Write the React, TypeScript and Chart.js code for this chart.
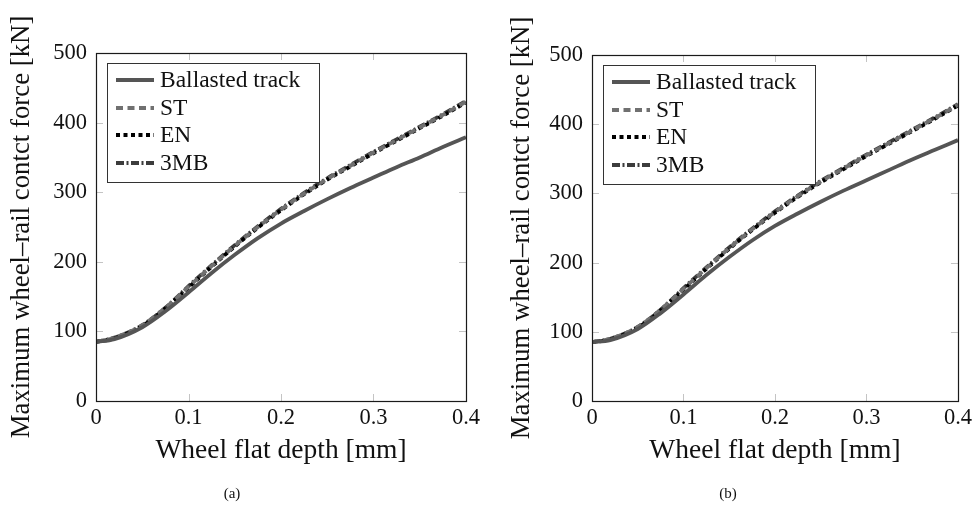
import React, { useEffect, useRef } from "react";
import { Chart, registerables } from "chart.js";

Chart.register(...registerables);

// ---------- data ----------
const depth = [0, 0.02, 0.05, 0.075, 0.1, 0.125, 0.15, 0.175, 0.2, 0.225, 0.25, 0.275, 0.3, 0.325, 0.35, 0.375, 0.4];

const seriesNames = ["Ballasted track", "ST", "EN", "3MB"];

const aBallasted = [85, 89, 106, 129, 156, 184, 210, 234, 255, 273, 290, 306, 321, 336, 350, 365, 379];
const aST = [85, 91, 109, 134, 164, 194, 223, 250, 275, 298, 319, 338, 357, 375, 393, 411, 430];
const aEN = [85, 90, 108, 133, 163, 193, 222, 249, 274, 297, 318, 337, 356, 374, 392, 410, 429];
const a3MB = [85, 91, 109, 134, 165, 195, 224, 251, 276, 299, 320, 339, 358, 376, 394, 412, 431];

const bBallasted = [85, 88, 104, 127, 154, 182, 208, 232, 253, 271, 288, 304, 319, 334, 349, 363, 377];
const bST = [85, 90, 107, 132, 162, 192, 221, 248, 273, 296, 317, 336, 355, 373, 391, 409, 428];
const bEN = [85, 89, 106, 131, 161, 191, 220, 247, 272, 295, 316, 335, 354, 372, 390, 408, 427];
const b3MB = [85, 90, 107, 132, 163, 193, 222, 249, 274, 297, 318, 337, 356, 374, 392, 410, 429];

const xTickLabels = ["0", "0.1", "0.2", "0.3", "0.4"];
const yTickLabels = ["0", "100", "200", "300", "400", "500"];

const xTitle = "Wheel flat depth [mm]";
const yTitle = "Maximum wheel\u2013rail contct force [kN]";

const captions = ["(a)", "(b)"];

// ---------- styling ----------
const FONT = '"Liberation Serif", "Times New Roman", serif';
const styles = [
  { color: "#555555", dash: [] as number[], width: 3.8 },
  { color: "#707070", dash: [7, 4.5], width: 3.8 },
  { color: "#000000", dash: [4, 3.5], width: 3.8 },
  { color: "#3c3c3c", dash: [8, 2.5, 2, 2.5], width: 3.8 },
];

const boxLegend = {
  id: "boxLegend",
  afterDatasetsDraw(chart: any) {
    const { ctx, chartArea: ca } = chart;
    const x0 = ca.left + 11;
    const y0 = ca.top + 10;
    const w = 212;
    const h = 119;
    ctx.save();
    ctx.fillStyle = "#ffffff";
    ctx.fillRect(x0, y0, w, h);
    ctx.strokeStyle = "#333333";
    ctx.lineWidth = 1;
    ctx.setLineDash([]);
    ctx.strokeRect(x0 + 0.5, y0 + 0.5, w, h);
    chart.data.datasets.forEach((ds: any, i: number) => {
      const cy = Math.round(y0 + 17 + i * 27.7);
      ctx.beginPath();
      ctx.setLineDash(ds.borderDash || []);
      ctx.strokeStyle = ds.borderColor;
      ctx.lineWidth = ds.borderWidth;
      ctx.lineCap = "butt";
      ctx.moveTo(ca.left + 20, cy);
      ctx.lineTo(ca.left + 58, cy);
      ctx.stroke();
      ctx.setLineDash([]);
      ctx.fillStyle = "#111111";
      ctx.font = `23.5px ${FONT}`;
      ctx.textBaseline = "middle";
      ctx.textAlign = "left";
      ctx.fillText(ds.label, ca.left + 64, cy + 1);
    });
    ctx.restore();
  },
};

const frame = {
  id: "frame",
  afterDraw(chart: any) {
    const { ctx, chartArea: ca, scales } = chart;
    const tl = 7;
    ctx.save();
    ctx.setLineDash([]);
    ctx.strokeStyle = "#c4c4c4";
    ctx.lineWidth = 1;
    scales.x.ticks.forEach((t: any) => {
      const px = Math.round(scales.x.getPixelForValue(t.value)) + 0.5;
      if (px <= ca.left + 1 || px >= ca.right - 1) return;
      ctx.beginPath();
      ctx.moveTo(px, ca.bottom);
      ctx.lineTo(px, ca.bottom - tl);
      ctx.moveTo(px, ca.top);
      ctx.lineTo(px, ca.top + tl);
      ctx.stroke();
    });
    scales.y.ticks.forEach((t: any) => {
      const py = Math.round(scales.y.getPixelForValue(t.value)) + 0.5;
      if (py <= ca.top + 1 || py >= ca.bottom - 1) return;
      ctx.beginPath();
      ctx.moveTo(ca.left, py);
      ctx.lineTo(ca.left + tl, py);
      ctx.moveTo(ca.right, py);
      ctx.lineTo(ca.right - tl, py);
      ctx.stroke();
    });
    ctx.strokeStyle = "#1a1a1a";
    ctx.lineWidth = 1.2;
    ctx.strokeRect(Math.round(ca.left) + 0.5, Math.round(ca.top) + 0.5, Math.round(ca.right - ca.left), Math.round(ca.bottom - ca.top));
    ctx.restore();
  },
};

type PanelProps = {
  values: number[][];
  left: number;
  width: number;
  padLeft: number;
  padTop: number;
  padRight: number;
  yWidth: number;
};

function Panel({ values, left, width, padLeft, padTop, padRight, yWidth }: PanelProps) {
  const ref = useRef<HTMLCanvasElement | null>(null);
  useEffect(() => {
    if (!ref.current) return;
    const datasets = values.map((vals, i) => ({
      label: seriesNames[i],
      data: depth.map((d, j) => ({ x: d, y: vals[j] })),
      borderColor: styles[i].color,
      backgroundColor: styles[i].color,
      borderDash: styles[i].dash,
      borderWidth: styles[i].width,
      pointRadius: 0,
      fill: false,
      cubicInterpolationMode: "monotone" as const,
      borderCapStyle: "butt" as const,
    }));
    const chart = new Chart(ref.current, {
      type: "line",
      data: { datasets },
      plugins: [boxLegend, frame],
      options: {
        animation: false,
        responsive: false,
        devicePixelRatio: 1,
        layout: { padding: { left: padLeft, top: padTop, right: padRight, bottom: 45 } },
        plugins: { legend: { display: false }, tooltip: { enabled: false } },
        scales: {
          x: {
            type: "linear",
            min: 0,
            max: 0.4,
            grid: { display: false, drawTicks: false },
            border: { display: false },
            ticks: {
              stepSize: 0.1,
              padding: 4,
              color: "#111",
              font: { family: FONT, size: 22.5 },
              maxRotation: 0,
              callback: (_v: any, i: number) => xTickLabels[i],
            },
            title: {
              display: true,
              text: xTitle,
              color: "#111",
              font: { family: FONT, size: 27.5 },
              padding: 0,
            },
            afterFit: (s: any) => {
              s.height = 66;
            },
          },
          y: {
            min: 0,
            max: 500,
            grid: { display: false, drawTicks: false },
            border: { display: false },
            ticks: {
              stepSize: 100,
              padding: 9,
              color: "#111",
              font: { family: FONT, size: 22.5 },
              callback: (_v: any, i: number) => yTickLabels[i],
            },
            title: {
              display: true,
              text: yTitle,
              color: "#111",
              font: { family: FONT, size: 26.8 },
              padding: 0,
            },
            afterFit: (s: any) => {
              s.width = yWidth;
            },
          },
        },
      },
    });
    return () => chart.destroy();
  }, []);
  return (
    <canvas
      ref={ref}
      width={width}
      height={512}
      style={{ position: "absolute", left, top: 0, width, height: 512 }}
    />
  );
}

export default function App() {
  return (
    <div style={{ position: "fixed", left: 0, top: 0, width: 976, height: 512, background: "#fff", overflow: "hidden" }}>
      <Panel values={[aBallasted, aST, aEN, a3MB]} left={0} width={488} padLeft={6} padTop={53} padRight={22} yWidth={90} />
      <Panel values={[bBallasted, bST, bEN, b3MB]} left={496} width={480} padLeft={10} padTop={55} padRight={16} yWidth={86} />
      {captions.map((c, i) => (
        <div
          key={c}
          style={{
            position: "absolute",
            left: i === 0 ? 232 : 728,
            top: 493,
            transform: "translate(-50%, -50%)",
            fontFamily: FONT,
            fontSize: 15,
            color: "#111",
            whiteSpace: "nowrap",
          }}
        >
          {c}
        </div>
      ))}
    </div>
  );
}
